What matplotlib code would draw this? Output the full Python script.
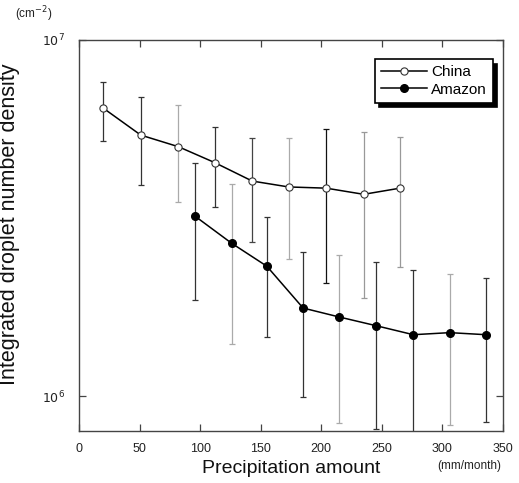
import matplotlib.pyplot as plt
from matplotlib.ticker import FixedLocator, NullLocator

plt.rcParams['font.family'] = ['Liberation Sans', 'DejaVu Sans']

# China
china_x = [20, 51, 82, 112, 143, 173, 204, 235, 265]
china_y = [6.44e6, 5.41e6, 5.02e6, 4.53e6, 4.02e6, 3.87e6, 3.84e6, 3.69e6, 3.84e6]
china_hi = [7.64e6, 6.9e6, 6.58e6, 5.7e6, 5.32e6, 5.3e6, 5.64e6, 5.52e6, 5.36e6]
china_lo = [5.2e6, 3.93e6, 3.52e6, 3.4e6, 2.72e6, 2.43e6, 2.08e6, 1.89e6, 2.31e6]

# Amazon
amazon_x = [96, 126, 155, 185, 215, 245, 276, 306, 336]
amazon_y = [3.2e6, 2.69e6, 2.32e6, 1.77e6, 1.67e6, 1.58e6, 1.49e6, 1.51e6, 1.49e6]
amazon_hi = [4.53e6, 3.94e6, 3.18e6, 2.55e6, 2.5e6, 2.39e6, 2.27e6, 2.2e6, 2.15e6]
amazon_lo = [1.86e6, 1.40e6, 1.47e6, 9.96e5, 8.4e5, 8.1e5, 7.5e5, 8.3e5, 8.5e5]

x_ticks = [0, 50, 100, 150, 200, 250, 300, 350]

# scanned look: some bars come out lighter
china_ec = ['#333', '#333', '#aaa', '#333', '#444', '#aaa', '#111', '#999', '#999']
amazon_ec = ['#333', '#aaa', '#333', '#333', '#aaa', '#333', '#333', '#aaa', '#333']

fig = plt.figure(figsize=(5.19, 4.83), dpi=100)
ax = fig.add_axes([0.1522, 0.1077, 0.8170, 0.8095])

def draw(xs, ys, lo, hi, ecs):
    for x, y, l, h, c in zip(xs, ys, lo, hi, ecs):
        ax.errorbar([x], [y], yerr=[[y - l], [h - y]], fmt='none',
                    ecolor=c, elinewidth=0.9, capsize=2.0, capthick=0.9, zorder=2)

draw(china_x, china_y, china_lo, china_hi, china_ec)
draw(amazon_x, amazon_y, amazon_lo, amazon_hi, amazon_ec)

ax.plot(china_x, china_y, '-o', color='black', lw=1.1, ms=5.2,
        mfc='white', mec='#333', mew=0.8, label='China', zorder=3)
ax.plot(amazon_x, amazon_y, '-o', color='black', lw=1.1, ms=5.5,
        mfc='black', mec='black', label='Amazon', zorder=3)

ax.set_yscale('log')
ax.set_xlim(0, 350)
ax.set_ylim(8.0e5, 1e7)
ax.xaxis.set_major_locator(FixedLocator(x_ticks))
ax.yaxis.set_major_locator(FixedLocator([1e6, 1e7]))
ax.yaxis.set_minor_locator(NullLocator())
ax.set_yticklabels(['$10^6$', '$10^7$'])
ax.tick_params(direction='in', length=5, width=0.9, color='#444',
               top=True, right=True, labelsize=9, labelcolor='#222', pad=9)
ax.tick_params(axis='y', pad=10)
for s in ax.spines.values():
    s.set_color('#444')
    s.set_linewidth(1.0)

ax.set_xlabel('Precipitation amount', fontsize=14, color='#111', labelpad=3)
ax.set_ylabel('Integrated droplet number density', fontsize=15.5, color='#111')
ax.yaxis.set_label_coords(-0.14, 0.53)
fig.text(0.905, 0.028, '(mm/month)', fontsize=8.5, color='#222', ha='center')
fig.text(0.065, 0.962, '(cm$^{-2}$)', fontsize=8.5, color='#222', ha='center')

leg = ax.legend(loc='upper right', bbox_to_anchor=(0.995, 0.97), fontsize=11,
                handlelength=3.0, fancybox=False, edgecolor='black', framealpha=1,
                shadow={'color': 'black', 'alpha': 1, 'ox': 3, 'oy': -3},
                borderpad=0.4, labelspacing=0.2, handletextpad=0.3)
leg.get_frame().set_linewidth(1.2)

fig.savefig('out.png', dpi=100)
